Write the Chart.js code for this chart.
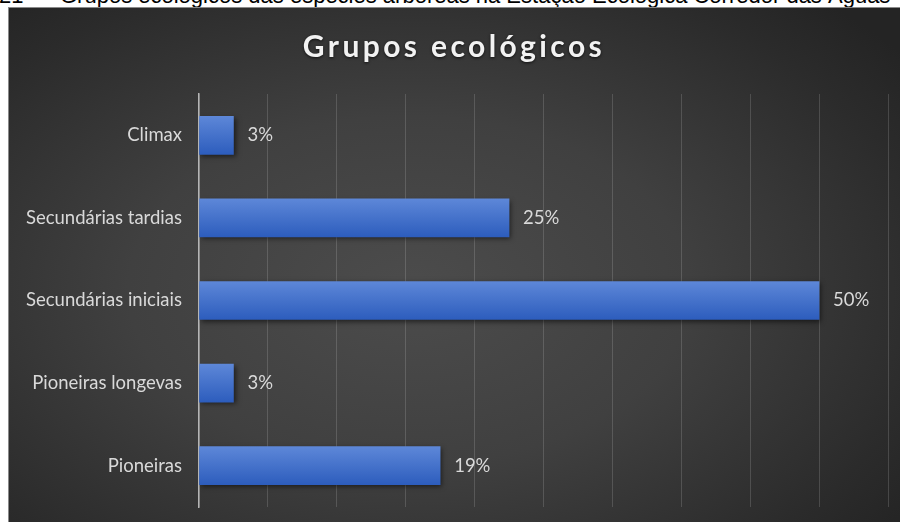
<!DOCTYPE html>
<html>
<head>
<meta charset="utf-8">
<script src="https://cdn.jsdelivr.net/npm/chart.js@4/dist/chart.umd.min.js"></script>
<style>
  html, body { margin: 0; padding: 0; background: #fff; }
  body { width: 900px; height: 522px; position: relative; overflow: hidden; }
  .caption {
    position: absolute; top: -15px; left: 0; white-space: nowrap;
    font: 22px "Liberation Sans", Arial, sans-serif; line-height: 22px; color: #000;
  }
  .caption .num { position: absolute; left: -1px; }
  .caption .txt { position: absolute; left: 60px; }
  .panel {
    position: absolute; left: 8px; top: 7px; width: 892px; height: 515px;
    background: radial-gradient(ellipse 70% 75% at 45% 55%, #4c4c4c 0%, #404040 45%, #2b2b2b 85%, #242424 100%);
    box-shadow: inset 1px 1px 0 #8a8a8a;
  }
  .title {
    position: absolute; top: 23px; left: 0; width: 892px; text-align: center;
    font: bold 30px Lato, "Open Sans", sans-serif; line-height: 30px; letter-spacing: 3.4px;
    color: #f2f2f2; text-shadow: 0 1px 3px rgba(0,0,0,0.7);
  }
  canvas { position: absolute; left: 0; top: 0; }
</style>
</head>
<body>
<div class="caption"><span class="num">21 -</span><span class="txt">Grupos ecológicos das espécies arbóreas na Estação Ecológica Corredor das Águas</span></div>
<div class="panel">
  <canvas id="chart" width="892" height="515"></canvas>
  <div class="title">Grupos ecológicos</div>
</div>
<script>
// grupos ecológicos: número de espécies por grupo (eixo oculto 0-20)
const categories = ["Climax", "Secundárias tardias", "Secundárias iniciais", "Pioneiras longevas", "Pioneiras"];
const speciesCounts = [1, 9, 18, 1, 7];
const axisMin = 0;
const axisMax = 20;
const axisStep = 2;

const total = speciesCounts.reduce((a, b) => a + b, 0);
const pctLabels = speciesCounts.map(v => Math.round(v / total * 100) + "%");

const labelFont = { family: "Lato, 'Open Sans', sans-serif", size: 18.5 };
const labelColor = "#d9d9d9";

function barGradient(ctx){
  const chart = ctx.chart;
  const y = chart.scales.y;
  if (!y || ctx.dataIndex === undefined) return "#4472c4";
  const cy = y.getPixelForValue(ctx.dataIndex);
  if (!isFinite(cy)) return "#4472c4";
  const g = chart.ctx.createLinearGradient(0, cy - 19, 0, cy + 19);
  g.addColorStop(0, "#5d87d8");
  g.addColorStop(1, "#2d5dbd");
  return g;
}

const barShadow = {
  id: "barShadow",
  beforeDatasetsDraw(chart){
    const c = chart.ctx;
    c.save();
    c.shadowColor = "rgba(0,0,0,0.55)";
    c.shadowBlur = 5;
    c.shadowOffsetX = 2;
    c.shadowOffsetY = 2;
  },
  afterDatasetsDraw(chart){
    const c = chart.ctx;
    c.restore();
    // rótulos de dados
    const meta = chart.getDatasetMeta(0);
    c.save();
    c.fillStyle = labelColor;
    c.font = `${labelFont.size}px ${labelFont.family}`;
    c.textBaseline = "middle";
    c.textAlign = "left";
    meta.data.forEach((bar, i) => {
      c.fillText(pctLabels[i], bar.x + 14, bar.y);
    });
    c.restore();
  }
};

new Chart(document.getElementById("chart"), {
  type: "bar",
  data: {
    labels: categories,
    datasets: [{
      data: speciesCounts,
      backgroundColor: barGradient,
      borderWidth: 0,
      barThickness: 38
    }]
  },
  options: {
    indexAxis: "y",
    responsive: false,
    animation: false,
    layout: { padding: { top: 87, right: 12, bottom: 15, left: 0 } },
    plugins: {
      legend: { display: false },
      title: { display: false },
      tooltip: { enabled: false }
    },
    scales: {
      x: {
        type: "linear",
        min: axisMin,
        max: axisMax,
        ticks: { stepSize: axisStep, display: false },
        grid: { color: "rgba(255,255,255,0.15)", lineWidth: 1, drawTicks: false },
        border: { display: false },
        afterFit(scale){ scale.height = 0; scale.paddingLeft = 0; scale.paddingRight = 0; }
      },
      y: {
        ticks: { color: labelColor, font: labelFont, padding: 17 },
        grid: { display: false, drawTicks: false },
        border: { display: true, color: "#b5b5b5", width: 1.5 },
        afterFit(scale){ scale.width = 191; scale.paddingTop = 0; scale.paddingBottom = 0; }
      }
    }
  },
  plugins: [barShadow]
});
</script>
</body>
</html>
